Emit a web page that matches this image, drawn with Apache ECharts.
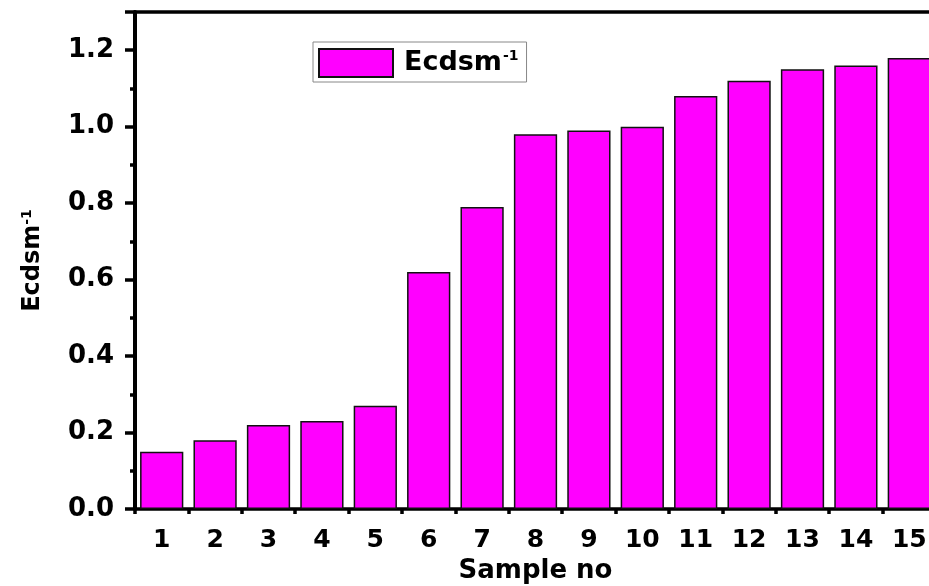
<!DOCTYPE html>
<html><head><meta charset="utf-8">
<script src="https://cdn.jsdelivr.net/npm/echarts@6/dist/echarts.min.js"></script>
<style>html,body{margin:0;padding:0;background:#fff}#c{width:929px;height:586px}</style>
</head><body><div id="c"></div>
<script>
const categories = ['1','2','3','4','5','6','7','8','9','10','11','12','13','14','15'];
const ecdsm = [0.15,0.18,0.22,0.23,0.27,0.62,0.79,0.98,0.99,1.00,1.08,1.12,1.15,1.16,1.18];
const seriesName = 'Ecdsm-1';
const F = '"DejaVu Sans", "Liberation Sans", Arial, sans-serif';
const chart = echarts.init(document.getElementById('c'));
chart.setOption({
  animation:false,
  grid:{left:135,right:-7,top:12,bottom:77,containLabel:false,outerBoundsMode:'none'},
  legend:{
    left:313, top:42, orient:'horizontal', icon:'rect',
    itemWidth:74, itemHeight:28, itemGap:0,
    padding:[6,8,4,5], borderColor:'#888', borderWidth:1,
    data:[seriesName],
    formatter:()=>'{a|Ecdsm}{b|-1}',
    textStyle:{rich:{
      a:{fontFamily:F,fontWeight:'bold',fontSize:27,color:'#000',padding:[0,0,0,6]},
      b:{fontFamily:F,fontWeight:'bold',fontSize:14,color:'#000',verticalAlign:'top',padding:[0,0,14,1]}
    }}
  },
  xAxis:[{
    type:'category', data:categories, position:'bottom',
    name:'Sample no', nameLocation:'middle', nameGap:44,
    nameTextStyle:{fontFamily:F,fontWeight:'bold',fontSize:26,color:'#000'},
    axisLine:{lineStyle:{color:'#000',width:3.5}},
    axisTick:{alignWithLabel:true,interval:0,length:8,lineStyle:{color:'#000',width:3.5}},
    axisLabel:{interval:0,fontFamily:F,fontWeight:'bold',fontSize:25,color:'#000',margin:19},
    splitLine:{show:false}
  },{
    type:'value', min:0, max:15, interval:1, position:'bottom',
    axisLine:{show:false}, axisLabel:{show:false},
    axisTick:{show:true,length:5,lineStyle:{color:'#000',width:3.5}},
    splitLine:{show:false}
  },{
    type:'value', min:0, max:15, position:'top',
    axisLine:{show:true,lineStyle:{color:'#000',width:3.5}},
    axisTick:{show:false}, axisLabel:{show:false}, splitLine:{show:false}
  }],
  yAxis:{
    type:'value', min:0, max:1.3, interval:0.2,
    name:'Ecdsm{s|-1}', nameLocation:'middle', nameGap:89, nameRotate:90,
    nameTextStyle:{fontFamily:F,fontWeight:'bold',fontSize:24,color:'#000',
      rich:{s:{fontFamily:F,fontWeight:'bold',fontSize:14,color:'#000',verticalAlign:'top',padding:[0,0,12,0]}}},
    axisLine:{show:true,lineStyle:{color:'#000',width:4}},
    axisTick:{show:true,length:10,lineStyle:{color:'#000',width:3.5}},
    minorTick:{show:true,splitNumber:2,length:5,lineStyle:{color:'#000',width:3.5}},
    axisLabel:{fontFamily:F,fontWeight:'bold',fontSize:26,color:'#000',margin:21,
      formatter:v=>(Math.abs(v*5-Math.round(v*5))<1e-6)?v.toFixed(1):''},
    showMaxLabel:false,
    splitLine:{show:false}, minorSplitLine:{show:false}
  },
  series:[{
    name:seriesName, type:'bar', data:ecdsm, xAxisIndex:0,
    barCategoryGap:'19%',
    itemStyle:{color:'#ff00ff',borderColor:'#111',borderWidth:1.5}
  }]
});
</script></body></html>
